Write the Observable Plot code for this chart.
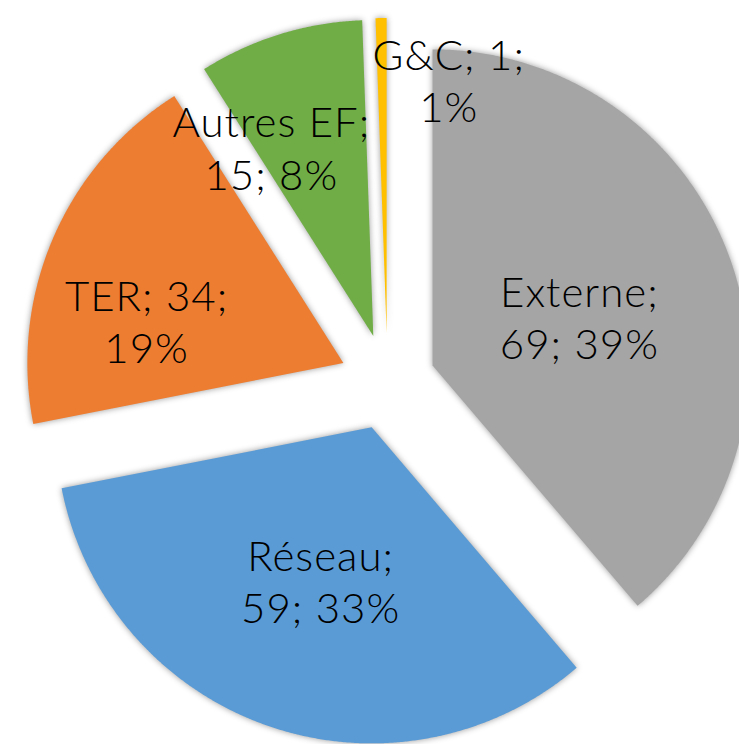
<!DOCTYPE html>
<html>
<head>
<meta charset="utf-8">
<script src="https://cdn.jsdelivr.net/npm/d3@7"></script>
<script src="https://cdn.jsdelivr.net/npm/@observablehq/plot@0.6"></script>
<style>
  html, body { margin: 0; padding: 0; background: #fff; }
  #chart svg { overflow: hidden; display: block; }
  #chart g[aria-label="line"] path { filter: drop-shadow(0 0 3px rgba(0,0,0,0.4)); }
  #chart g[aria-label="text"] text { letter-spacing: 1px; }
</style>
</head>
<body>
<div id="chart"></div>
<script>
// ---- Data ----
const categories = ["Externe", "Réseau", "TER", "Autres EF", "G&C"];
const values = [69, 59, 34, 15, 1];
const colors = ["#A5A5A5", "#5B9BD5", "#ED7D31", "#70AD47", "#FFC000"];
// parts of the label placed on the first line (name; value; percent)
const labelFirstLineParts = [1, 1, 2, 1, 2];

// ---- Layout (not data) ----
const explode = 0.152;                                  // slice explosion, fraction of radius
const labelAngleNudge = [1.3, -0.6, -8.9, -9.1, 12.45]; // degrees, from slice bisector
const labelRadius = [0.49, 0.511, 0.635, 0.678, 0.825]; // fraction of radius, beyond explosion

const total = d3.sum(values);
const arcs = d3.pie().sort(null).value(d => d)(values);

const sliceMarks = arcs.map((a, i) => {
  const mid = (a.startAngle + a.endAngle) / 2;
  const ox = explode * Math.sin(mid), oy = explode * Math.cos(mid);
  const pts = [{x: ox, y: oy}];
  const n = Math.max(2, Math.ceil((a.endAngle - a.startAngle) / 0.005));
  for (let k = 0; k <= n; k++) {
    const t = a.startAngle + (a.endAngle - a.startAngle) * k / n;
    pts.push({x: ox + Math.sin(t), y: oy + Math.cos(t)});
  }
  pts.push({x: ox, y: oy});
  return Plot.line(pts, {x: "x", y: "y", fill: colors[i], stroke: "none", curve: "linear"});
});

const labels = arcs.map((a, i) => {
  const mid = (a.startAngle + a.endAngle) / 2 + labelAngleNudge[i] * Math.PI / 180;
  const r = explode + labelRadius[i];
  const parts = [categories[i], String(values[i]), Math.round(values[i] / total * 100) + "%"];
  const k = labelFirstLineParts[i];
  const text = parts.slice(0, k).join("; ") + ";\n" + parts.slice(k).join("; ");
  return {x: r * Math.sin(mid), y: r * Math.cos(mid), text};
});

const W = 739, H = 744, px = 316, cx = 387, cy = 381.5;
const chart = Plot.plot({
  width: W,
  height: H,
  margin: 0,
  x: {domain: [-cx / px, (W - cx) / px], axis: null},
  y: {domain: [-(H - cy) / px, cy / px], axis: null},
  style: {background: "#fff", overflow: "hidden"},
  marks: [
    ...sliceMarks,
    Plot.text(labels, {
      x: "x", y: "y", text: "text",
      fontSize: 42, lineHeight: 1.24,
      fontFamily: "Lato", fontWeight: 300,
      fill: "#000"
    })
  ]
});
document.getElementById("chart").appendChild(chart);
</script>
</body>
</html>
